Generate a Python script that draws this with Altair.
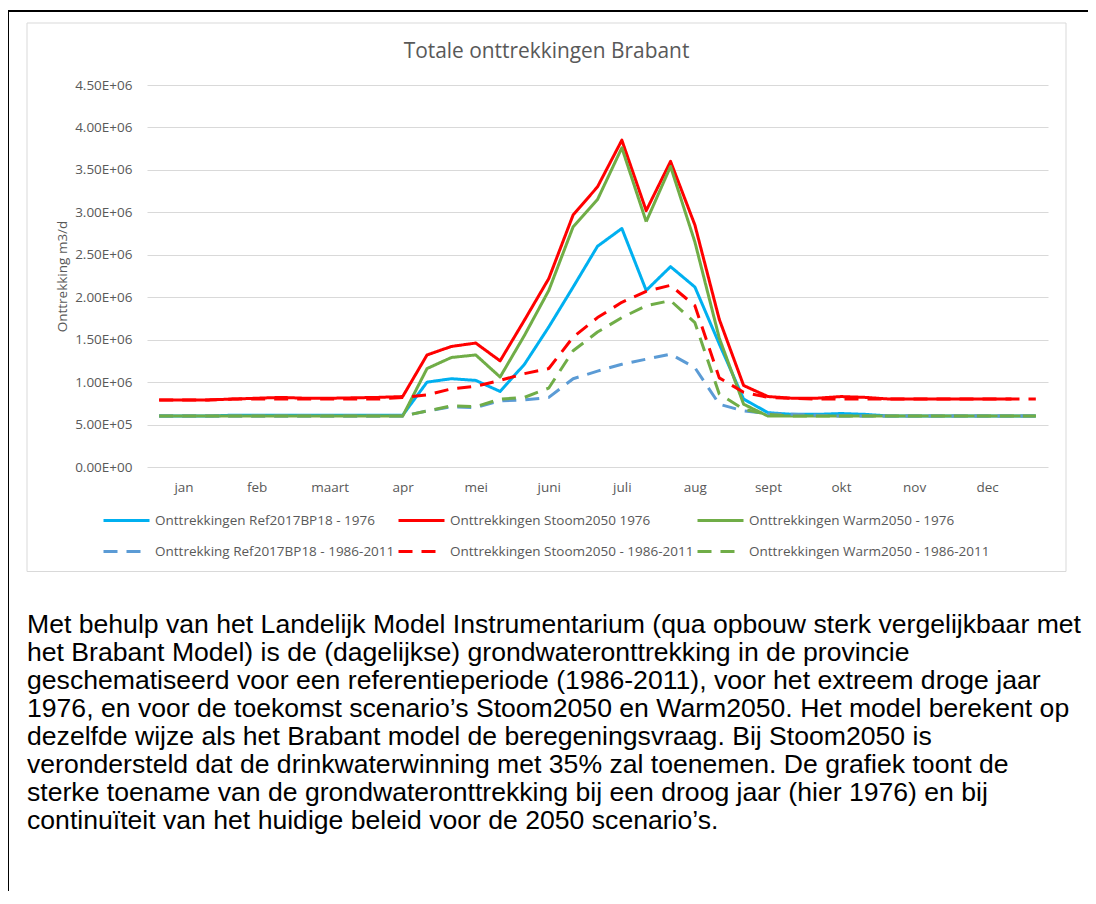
import json
import altair as alt
import pandas as pd

# ---------------- data ----------------
months = ["jan", "feb", "maart", "apr", "mei", "juni", "juli", "aug", "sept", "okt", "nov", "dec"]
decade = list(range(37))  # 37 decade steps over the year

series_names = [
    "Onttrekkingen Ref2017BP18 - 1976",
    "Onttrekkingen Stoom2050 1976",
    "Onttrekkingen Warm2050 - 1976",
    "Onttrekking Ref2017BP18 - 1986-2011",
    "Onttrekkingen Stoom2050 - 1986-2011",
    "Onttrekkingen Warm2050 - 1986-2011",
]

ref_1976 = [6.0e5, 6.0e5, 6.0e5, 6.1e5, 6.1e5, 6.1e5, 6.1e5, 6.1e5, 6.1e5, 6.1e5,
            6.1e5, 1.00e6, 1.04e6, 1.02e6, 8.9e5, 1.21e6, 1.65e6, 2.12e6, 2.60e6, 2.81e6,
            2.08e6, 2.36e6, 2.12e6, 1.45e6, 8.0e5, 6.4e5, 6.2e5, 6.2e5, 6.3e5, 6.2e5,
            6.0e5, 6.0e5, 6.0e5, 6.0e5, 6.0e5, 6.0e5, 6.0e5]
stoom_1976 = [7.9e5, 7.9e5, 7.9e5, 8.0e5, 8.1e5, 8.2e5, 8.1e5, 8.1e5, 8.15e5, 8.2e5,
              8.3e5, 1.32e6, 1.42e6, 1.46e6, 1.25e6, 1.73e6, 2.22e6, 2.97e6, 3.30e6, 3.85e6,
              3.02e6, 3.60e6, 2.85e6, 1.74e6, 9.6e5, 8.3e5, 8.1e5, 8.1e5, 8.3e5, 8.2e5,
              8.0e5, 8.0e5, 8.0e5, 8.0e5, 8.0e5, 8.0e5, None]
warm_1976 = [6.0e5, 6.0e5, 6.0e5, 6.0e5, 6.0e5, 6.0e5, 6.0e5, 6.0e5, 6.0e5, 6.0e5,
             6.0e5, 1.16e6, 1.29e6, 1.32e6, 1.06e6, 1.55e6, 2.08e6, 2.83e6, 3.15e6, 3.76e6,
             2.89e6, 3.54e6, 2.65e6, 1.52e6, 7.4e5, 6.0e5, 6.0e5, 6.0e5, 6.0e5, 6.0e5,
             6.0e5, 6.0e5, 6.0e5, 6.0e5, 6.0e5, 6.0e5, 6.0e5]
ref_8611 = [6.0e5, 6.0e5, 6.0e5, 6.0e5, 6.0e5, 6.0e5, 6.0e5, 6.0e5, 6.0e5, 6.0e5,
            6.0e5, 6.6e5, 7.1e5, 7.0e5, 7.8e5, 7.9e5, 8.2e5, 1.04e6, 1.13e6, 1.21e6,
            1.27e6, 1.33e6, 1.17e6, 7.4e5, 6.6e5, 6.3e5, 6.2e5, 6.1e5, 6.0e5, 6.0e5,
            6.0e5, 6.0e5, 6.0e5, 6.0e5, 6.0e5, 6.0e5, 6.0e5]
stoom_8611 = [7.9e5, 7.9e5, 7.9e5, 8.0e5, 8.0e5, 8.0e5, 8.0e5, 8.0e5, 8.0e5, 8.0e5,
              8.2e5, 8.5e5, 9.2e5, 9.5e5, 1.02e6, 1.10e6, 1.16e6, 1.53e6, 1.76e6, 1.94e6,
              2.07e6, 2.14e6, 1.90e6, 1.05e6, 8.8e5, 8.2e5, 8.1e5, 8.0e5, 8.0e5, 8.0e5,
              8.0e5, 8.0e5, 8.0e5, 8.0e5, 8.0e5, 8.0e5, 8.0e5]
warm_8611 = [6.0e5, 6.0e5, 6.0e5, 6.0e5, 6.0e5, 6.0e5, 6.0e5, 6.0e5, 6.0e5, 6.0e5,
             6.0e5, 6.6e5, 7.2e5, 7.1e5, 8.0e5, 8.2e5, 9.3e5, 1.37e6, 1.59e6, 1.76e6,
             1.90e6, 1.96e6, 1.70e6, 8.6e5, 6.8e5, 6.2e5, 6.0e5, 6.0e5, 6.0e5, 6.0e5,
             6.0e5, 6.0e5, 6.0e5, 6.0e5, 6.0e5, 6.0e5, 6.0e5]
series_values = [ref_1976, stoom_1976, warm_1976, ref_8611, stoom_8611, warm_8611]

y_ticks = [0, 5e5, 1e6, 1.5e6, 2e6, 2.5e6, 3e6, 3.5e6, 4e6, 4.5e6]
month_label_positions = [1, 4, 7, 10, 13, 16, 19, 22, 25, 28, 31, 34]

chart_title = "Totale onttrekkingen Brabant"
y_title = "Onttrekking m3/d"
paragraph = [
    "Met behulp van het Landelijk Model Instrumentarium (qua opbouw sterk vergelijkbaar met",
    "het Brabant Model) is de (dagelijkse) grondwateronttrekking in de provincie",
    "geschematiseerd voor een referentieperiode (1986-2011), voor het extreem droge jaar",
    "1976, en voor de toekomst scenario\u2019s Stoom2050 en Warm2050. Het model berekent op",
    "dezelfde wijze als het Brabant model de beregeningsvraag. Bij Stoom2050 is",
    "verondersteld dat de drinkwaterwinning met 35% zal toenemen. De grafiek toont de",
    "sterke toename van de grondwateronttrekking bij een droog jaar (hier 1976) en bij",
    "continu\u00efteit van het huidige beleid voor de 2050 scenario\u2019s.",
]

# ---------------- styles ----------------
colors = ["#00B0F0", "#FF0000", "#70AD47", "#5B9BD5", "#FF0000", "#70AD47"]
dashes = [[1, 0], [1, 0], [1, 0], [14, 9], [14, 9], [14, 9]]
GRAY = "#595959"
FONT = "Open Sans"

rows = []
for name, vals in zip(series_names, series_values):
    for d, v in zip(decade, vals):
        if v is not None:
            rows.append({"series": name, "decade": d, "value": v})
df = pd.DataFrame(rows)

month_expr = json.dumps(months)
x_enc = alt.X(
    "decade:Q",
    scale=alt.Scale(domain=[-0.5, 36.5], nice=False, zero=False),
    axis=alt.Axis(
        values=month_label_positions,
        labelExpr=f"{month_expr}[floor(datum.value / 3)]",
        grid=False, domain=False, ticks=False, labelPadding=13, title=None,
        labelFont=FONT, labelFontSize=13.5, labelColor=GRAY,
    ),
)
y_enc = alt.Y(
    "value:Q",
    scale=alt.Scale(domain=[0, 4.5e6], nice=False),
    axis=alt.Axis(
        values=y_ticks,
        labelExpr="datum.value == 0 ? '0.00E+00' : (datum.value < 1000000 ? format(datum.value / 100000, '.2f') + 'E+05' : format(datum.value / 1000000, '.2f') + 'E+06')",
        grid=True, gridColor="#D9D9D9", gridWidth=1, domain=False, ticks=False,
        labelPadding=15, labelFont=FONT, labelFontSize=13.5, labelColor=GRAY,
        title=y_title, titleX=-85, titleY=191, titleAngle=270, titleAlign="center",
        titleBaseline="middle", titleFont=FONT, titleFontSize=13.5,
        titleFontWeight="normal", titleColor=GRAY,
    ),
)
color_enc = alt.Color(
    "series:N",
    scale=alt.Scale(domain=series_names, range=colors),
    legend=alt.Legend(
        orient="none", legendX=-45, legendY=411, columns=3, direction="horizontal",
        title=None, symbolType="stroke", symbolSize=2116, symbolStrokeWidth=3,
        labelFont=FONT, labelFontSize=13.5, labelColor=GRAY, labelOffset=4,
        labelLimit=400, columnPadding=-3, rowPadding=-21,
    ),
)
dash_enc = alt.StrokeDash("series:N", scale=alt.Scale(domain=series_names, range=dashes))

one = pd.DataFrame({"k": [0]})

outer_frame = alt.Chart(one).mark_rect(filled=False, color="black", strokeWidth=2).encode(
    x=alt.value(-139), x2=alt.value(960), y=alt.value(-74), y2=alt.value(840)
)
chart_frame = alt.Chart(one).mark_rect(filled=False, color="#D9D9D9", strokeWidth=1).encode(
    x=alt.value(-120), x2=alt.value(919), y=alt.value(-62), y2=alt.value(486.5)
)
title_mark = alt.Chart(one).mark_text(
    font=FONT, fontSize=20.9, color=GRAY, align="center", baseline="middle"
).encode(x=alt.value(399.5), y=alt.value(-33), text=alt.value(chart_title))
para_mark = alt.Chart(one).mark_text(
    font="Liberation Sans", fontSize=26.6, lineHeight=28, color="black",
    align="left", baseline="alphabetic"
).encode(x=alt.value(-120), y=alt.value(548), text=alt.value(paragraph))

line_layers = []
for name in series_names:
    line_layers.append(
        alt.Chart(df).transform_filter(alt.datum.series == name)
        .mark_line(strokeWidth=3, strokeJoin="round", strokeCap="butt")
        .encode(x=x_enc, y=y_enc, color=color_enc, strokeDash=dash_enc)
    )

chart = alt.layer(outer_frame, chart_frame, title_mark, para_mark, *line_layers).properties(
    width=901, height=382,
    autosize=alt.AutoSizeParams(type="none"),
    padding={"left": 139, "top": 77, "right": 40, "bottom": 424},
    background="white",
).configure_view(strokeWidth=0)

chart.save("out.html", embed_options={"renderer": "svg", "actions": False})
